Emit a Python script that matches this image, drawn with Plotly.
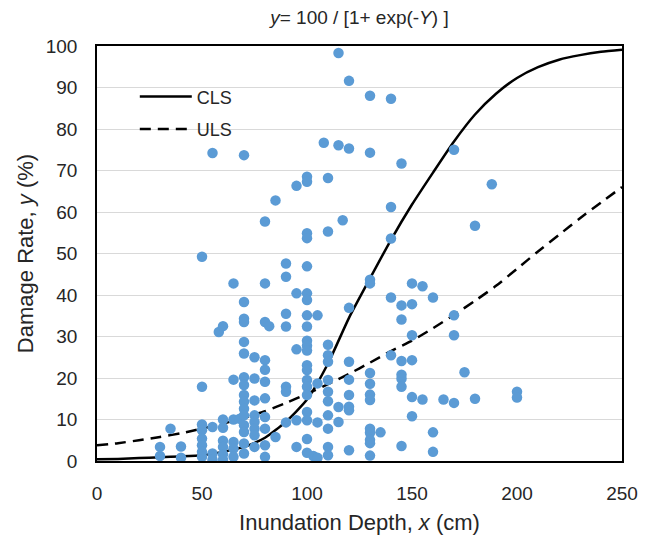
import plotly.graph_objects as go

# Fitted curves at 10 cm steps
curve_x = [0, 10, 20, 30, 40, 50, 60, 70, 80, 90, 100, 110, 120, 130, 140, 150, 160, 170, 180, 190, 200, 210, 220, 230, 240, 250]
cls_y = [0.4, 0.5, 0.7, 0.9, 1.1, 1.4, 2.2, 3.4, 5.6, 9.5, 14.8, 23.5, 34.5, 44.0, 53.3, 61.8, 69.5, 77.0, 83.5, 88.5, 92.3, 94.9, 96.7, 97.8, 98.6, 99.1]
uls_y = [3.8, 4.3, 5.0, 5.8, 6.7, 7.8, 9.0, 10.4, 12.0, 14.0, 16.2, 18.5, 21.0, 23.7, 26.5, 29.0, 32.0, 35.2, 38.6, 42.2, 46.3, 50.5, 54.5, 58.5, 62.3, 66.0]

# Observed damage rates, grouped by inundation depth
obs = {
    30: [3.4, 1.2],
    35: [7.8],
    40: [3.5, 0.8],
    50: [49.2, 17.9, 8.8, 7.4, 5.4, 3.8, 2.2, 1.0],
    55: [74.2, 8.2, 1.8, 0.3],
    58: [31.1],
    60: [32.5, 10.0, 8.0, 4.9, 3.4, 1.6, 0.3],
    65: [42.8, 19.6, 10.0, 4.6, 3.0, 1.0],
    68: [10.2],
    70: [73.7, 38.3, 34.3, 33.5, 28.7, 25.9, 20.2, 18.3, 15.9, 14.3, 12.6, 11.0, 8.6, 7.0, 4.2, 1.8],
    75: [25.0, 19.9, 14.6, 11.0, 9.4, 7.8, 6.2, 3.4],
    80: [57.7, 42.8, 33.5, 24.3, 22.0, 19.1, 15.1, 10.6, 7.8, 3.8, 1.0],
    82: [32.5],
    85: [62.8, 5.8],
    90: [47.6, 44.4, 35.5, 32.4, 17.9, 16.7, 9.3],
    95: [66.3, 40.4, 26.9, 9.8, 3.4],
    100: [68.5, 67.3, 54.9, 53.7, 46.9, 40.4, 38.8, 35.1, 32.4, 29.0, 27.8, 26.6, 23.1, 21.9, 19.5, 17.9, 15.9, 11.8, 9.8, 5.3, 2.0],
    103: [1.2],
    105: [35.1, 18.7, 9.3, 0.8],
    108: [76.7],
    110: [68.2, 55.3, 28.0, 25.5, 23.9, 19.5, 16.7, 14.4, 11.0, 7.8, 3.4, 1.4],
    115: [98.3, 76.1, 13.0, 9.4],
    117: [58.0],
    120: [91.6, 75.3, 36.9, 23.9, 19.6, 15.9, 13.1, 12.2, 2.6],
    130: [88.0, 74.3, 43.7, 42.8, 21.2, 18.6, 16.0, 14.7, 7.8, 6.8, 5.1, 4.3, 1.3],
    135: [6.9],
    140: [87.3, 61.2, 53.6, 39.4, 25.5],
    145: [71.7, 37.5, 34.1, 24.1, 20.8, 19.8, 17.9, 3.6],
    150: [42.8, 37.8, 30.3, 24.3, 15.4, 10.8],
    155: [42.1, 14.8],
    160: [39.4, 6.9, 2.2],
    165: [14.8],
    170: [75.0, 35.1, 30.3, 14.0],
    175: [21.4],
    180: [56.7, 15.0],
    188: [66.7],
    200: [16.7, 15.3],
}
obs_x = [d for d, vals in obs.items() for _ in vals]
obs_y = [v for vals in obs.values() for v in vals]

x_ticks = [0, 50, 100, 150, 200, 250]
y_ticks = [0, 10, 20, 30, 40, 50, 60, 70, 80, 90, 100]

FONT = "Liberation Sans, Arial, sans-serif"
TXT = "#262626"

fig = go.Figure()
fig.add_trace(go.Scatter(x=curve_x, y=cls_y, mode="lines", name="CLS",
                         line=dict(color="black", width=2.5, shape="spline", smoothing=0.6),
                         legendgroup="a"))
fig.add_trace(go.Scatter(x=curve_x, y=uls_y, mode="lines", name="ULS",
                         line=dict(color="black", width=2.5, dash="11px,7px", shape="spline", smoothing=0.6),
                         legendgroup="b"))
fig.add_trace(go.Scatter(x=obs_x, y=obs_y, mode="markers", showlegend=False,
                         marker=dict(color="#5B9BD5", size=10.5, line=dict(width=0))))

fig.update_layout(
    width=650, height=546,
    margin=dict(l=97, r=28, t=46, b=85),
    paper_bgcolor="white", plot_bgcolor="white",
    font=dict(family=FONT, color=TXT, size=19),
    title=dict(text="<i>y</i>= 100 / [1+ exp(-<i>Y</i>) ]", x=0.553, xanchor="center",
               y=0.968, yanchor="middle", font=dict(size=19, family=FONT, color=TXT)),
    legend=dict(x=0.072, y=0.922, xanchor="left", yanchor="top", itemwidth=52,
                bgcolor="rgba(0,0,0,0)", font=dict(size=18, family=FONT, color=TXT),
                tracegroupgap=6, traceorder="grouped"),
    xaxis=dict(range=[0, 250], tickvals=x_ticks, showgrid=False, zeroline=False,
               showline=True, linecolor="black", linewidth=1.5, mirror=True,
               ticks="", tickfont=dict(size=19), ticklabelstandoff=14,
               title=dict(text="Inundation Depth, <i>x</i> (cm)", font=dict(size=22), standoff=12)),
    yaxis=dict(range=[0, 100], tickvals=y_ticks, showgrid=True, gridcolor="#d9d9d9", gridwidth=1,
               zeroline=False, showline=True, linecolor="black", linewidth=1.5, mirror=True,
               ticks="", tickfont=dict(size=19), ticklabelstandoff=14,
               title=dict(text="Damage Rate, <i>y</i> (%)", font=dict(size=22), standoff=6)),
)

fig.write_html("out.html")
